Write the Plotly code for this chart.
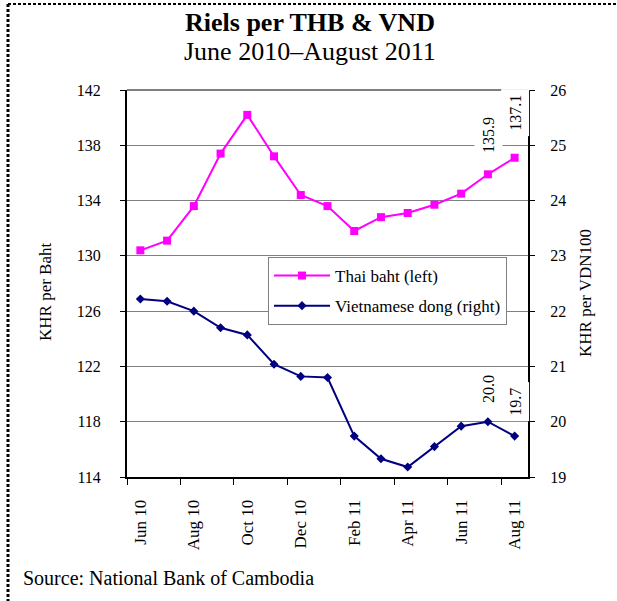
import plotly.graph_objects as go

months = ["Jun 10", "Jul 10", "Aug 10", "Sep 10", "Oct 10", "Nov 10", "Dec 10",
          "Jan 11", "Feb 11", "Mar 11", "Apr 11", "May 11", "Jun 11", "Jul 11", "Aug 11"]
thb = [130.4, 131.1, 133.6, 137.4, 140.2, 137.2, 134.4, 133.6, 131.8, 132.8,
       133.1, 133.7, 134.5, 135.9, 137.1]
vnd = [22.22, 22.18, 22.0, 21.70, 21.57, 21.04, 20.82, 20.80, 19.74, 19.33,
       19.18, 19.55, 19.92, 20.0, 19.74]
tick_labels = ["Jun 10", "Aug 10", "Oct 10", "Dec 10", "Feb 11", "Apr 11", "Jun 11", "Aug 11"]
left_ticks = [114, 118, 122, 126, 130, 134, 138, 142]
right_ticks = [19, 20, 21, 22, 23, 24, 25, 26]

FONT = "Liberation Serif, Times New Roman, serif"
W, H = 617, 601
L, R, T, B = 127, 89, 90, 124
PW, PH = W - L - R, H - T - B


def px(x):
    return (x - L) / PW


def py(y):
    return (H - B - y) / PH


x_idx = list(range(len(months)))

fig = go.Figure()
fig.add_trace(go.Scatter(
    x=x_idx, y=thb, name="Thai baht (left)", mode="lines+markers",
    line=dict(color="#FF00FF", width=2),
    marker=dict(symbol="square", size=8, color="#FF00FF"),
    legendgroup="a", yaxis="y"))
fig.add_trace(go.Scatter(
    x=x_idx, y=vnd, name="Vietnamese dong (right)", mode="lines+markers",
    line=dict(color="#000080", width=2),
    marker=dict(symbol="diamond", size=7, color="#000080"),
    legendgroup="b", yaxis="y2"))

tick_pos = [months.index(t) for t in tick_labels]

fig.update_layout(
    width=W, height=H,
    margin=dict(l=L, r=R, t=T, b=B, pad=0),
    paper_bgcolor="white", plot_bgcolor="white",
    font=dict(family=FONT, size=16, color="black"),
    showlegend=True,
    legend=dict(x=px(268), y=py(257), xanchor="left", yanchor="top",
                bgcolor="white", bordercolor="#808080", borderwidth=1,
                font=dict(family=FONT, size=17, color="black"),
                tracegroupgap=5, itemwidth=56),
    xaxis=dict(range=[-0.5, len(months) - 0.5], tickmode="array",
               tickvals=tick_pos, ticktext=tick_labels, tickangle=-90,
               ticks="", showgrid=False, zeroline=False,
               showline=True, linecolor="black", linewidth=2,
               ticklabelstandoff=14,
               tickfont=dict(family=FONT, size=17),
               minor=dict(tickmode="linear", tick0=-0.5, dtick=2,
                          ticks="outside", ticklen=6, tickcolor="black",
                          showgrid=False)),
    yaxis=dict(range=[114, 142], tickmode="array", tickvals=left_ticks,
               ticks="outside", ticklen=5, tickcolor="black",
               showgrid=True, gridcolor="#808080", gridwidth=1,
               zeroline=False, showline=True, linecolor="black", linewidth=2,
               ticklabelstandoff=16, tickfont=dict(family=FONT, size=16)),
    yaxis2=dict(range=[19, 26], tickmode="array", tickvals=right_ticks,
                overlaying="y", side="right",
                ticks="outside", ticklen=17, tickcolor="rgba(255,255,255,0)",
                showgrid=False, zeroline=False, showline=True,
                linecolor="black", linewidth=2,
                tickfont=dict(family=FONT, size=16),
                minor=dict(tickmode="linear", tick0=19, dtick=1,
                           ticks="outside", ticklen=5, tickcolor="black",
                           showgrid=False)),
)

shapes = [
    dict(type="line", xref="paper", yref="paper", x0=0, x1=1, y0=1, y1=1,
         line=dict(color="#808080", width=2)),
    dict(type="line", xref="paper", yref="paper", x0=px(8), x1=px(617),
         y0=py(4), y1=py(4), line=dict(color="black", width=2, dash="3px,2px")),
    dict(type="line", xref="paper", yref="paper", x0=px(8), x1=px(8),
         y0=py(4), y1=py(601), line=dict(color="black", width=3, dash="3px,2px")),
]
fig.update_layout(shapes=shapes)

ann = [
    dict(text="<b>Riels per THB & VND</b>", x=px(310), y=py(22), xref="paper",
         yref="paper", showarrow=False, xanchor="center", yanchor="middle",
         font=dict(family=FONT, size=26)),
    dict(text="June 2010–August 2011", x=px(310), y=py(51), xref="paper",
         yref="paper", showarrow=False, xanchor="center", yanchor="middle",
         font=dict(family=FONT, size=26)),
    dict(text="KHR per Baht", x=px(45), y=py(292), xref="paper", yref="paper",
         showarrow=False, textangle=-90, xanchor="center", yanchor="middle",
         font=dict(family=FONT, size=17)),
    dict(text="KHR per VDN100", x=px(585), y=py(293), xref="paper", yref="paper",
         showarrow=False, textangle=-90, xanchor="center", yanchor="middle",
         font=dict(family=FONT, size=17)),
    dict(text="Source: National Bank of Cambodia", x=px(21), y=py(578),
         xref="paper", yref="paper", xanchor="left", yanchor="middle",
         showarrow=False, font=dict(family=FONT, size=20)),
]
# value labels on the last two points of each series
labels = [
    (13, f"{thb[13]:.1f}", 135),
    (14, f"{thb[14]:.1f}", 113),
    (13, f"{vnd[13]:.1f}", 389),
    (14, f"{vnd[14]:.1f}", 402),
]
for xi, txt, ypix in labels:
    ann.append(dict(text=txt, x=xi, xref="x", y=py(ypix), yref="paper",
                    showarrow=False, textangle=-90, bgcolor="white",
                    xanchor="center", yanchor="middle",
                    borderpad=5, font=dict(family=FONT, size=16)))
fig.update_layout(annotations=ann)

fig.write_html("out.html", config={"displayModeBar": False},
               post_script="document.body.style.margin='0';")
